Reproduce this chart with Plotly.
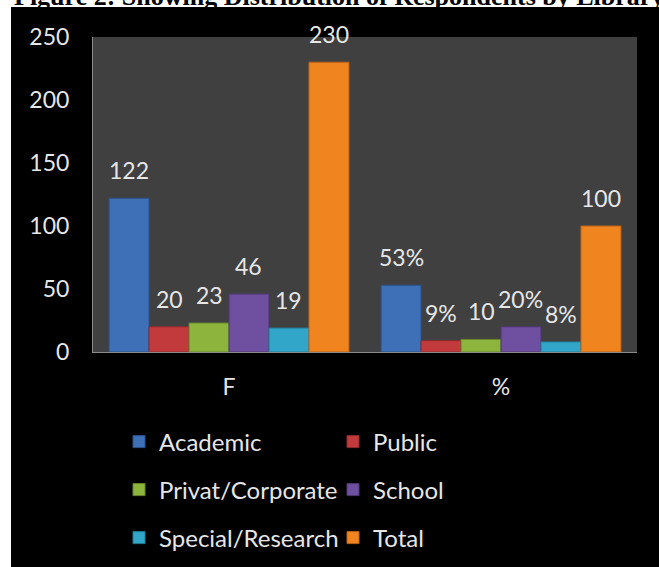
import plotly.graph_objects as go

# ---- data ----
categories = ["F", "%"]
series_names = ["Academic", "Public", "Privat/Corporate", "School", "Special/Research", "Total"]
f_values = [122, 20, 23, 46, 19, 230]
pct_values = [53, 9, 10, 20, 8, 100]
f_labels = ["122", "20", "23", "46", "19", "230"]
pct_labels = ["53%", "9%", "10", "20%", "8%", "100"]
y_ticks = [0, 50, 100, 150, 200, 250]
title_text = "Figure 2: Showing Distribution of Respondents by Library Type"

# ---- style ----
colors = ["#3d70b7", "#c23a3c", "#8db53e", "#6f4f9f", "#31a6c8", "#f0841f"]
edges = ["#2b5189", "#8f2a2c", "#67862c", "#4f3873", "#227b95", "#b9621a"]
W, H = 659, 567
ML, MR, MT, MB = 93, 22, 37, 215
PW, PH = W - ML - MR, H - MT - MB
BARGAP = 0.118
FONT = "Lato"
TXT = "#e6e6e6"
NUM_SIZE = 23
LEG_SIZE = 24

fig = go.Figure()
legend_ids = ["legend", "legend", "legend2", "legend2", "legend3", "legend3"]
for i, name in enumerate(series_names):
    fig.add_trace(go.Bar(
        x=categories, y=[f_values[i], pct_values[i]], name=name,
        marker=dict(color=colors[i], line=dict(color=edges[i], width=1)),
        legend=legend_ids[i], hoverinfo="skip",
    ))

# data labels positioned from the bar geometry of grouped bars
n = len(series_names)
w = (1 - BARGAP) / n
annotations = []
for ci, (vals, labs) in enumerate([(f_values, f_labels), (pct_values, pct_labels)]):
    for i in range(n):
        xc = ci - (1 - BARGAP) / 2 + (i + 0.5) * w
        annotations.append(dict(
            x=xc, y=vals[i], xref="x", yref="y", text=labs[i], showarrow=False,
            yanchor="bottom", xanchor="center", yshift=12,
            font=dict(family=FONT, size=NUM_SIZE, color=TXT),
        ))

# cut-off title at the top
annotations.append(dict(
    x=(12 - ML) / PW, y=1 + (MT - 13) / PH, xref="paper", yref="paper",
    xanchor="left", yanchor="bottom", text="<b>" + title_text + "</b>", showarrow=False,
    font=dict(family="Liberation Serif", size=26, color="black"),
))

shapes = [
    # white strip on top and on left (page around the chart picture)
    dict(type="rect", xref="paper", yref="paper", layer="below",
         x0=-ML / PW, x1=(W - ML) / PW, y0=1 + (MT - 7) / PH, y1=1 + MT / PH,
         fillcolor="white", line=dict(width=0)),
    dict(type="rect", xref="paper", yref="paper", layer="below",
         x0=-ML / PW, x1=(11 - ML) / PW, y0=-MB / PH, y1=1 + MT / PH,
         fillcolor="white", line=dict(width=0)),
]

leg_common = dict(orientation="h", xanchor="left", yanchor="middle",
                  font=dict(family=FONT, size=LEG_SIZE, color=TXT),
                  entrywidth=169, entrywidthmode="pixels",
                  bgcolor="rgba(0,0,0,0)", itemclick=False, itemdoubleclick=False)
lx = (119 - ML) / PW

fig.update_layout(
    width=W, height=H,
    margin=dict(l=ML, r=MR, t=MT, b=MB, autoexpand=False),
    paper_bgcolor="black", plot_bgcolor="#404040",
    barmode="group", bargap=BARGAP, bargroupgap=0,
    showlegend=True,
    legend=dict(**leg_common, x=lx, y=(352 - 442) / PH),
    legend2=dict(**leg_common, x=lx, y=(352 - 490) / PH),
    legend3=dict(**leg_common, x=lx, y=(352 - 538) / PH),
    annotations=annotations, shapes=shapes,
    xaxis=dict(showgrid=False, showline=True, linecolor="#8a8a8a", linewidth=1,
               ticks="outside", ticklen=14, tickcolor="rgba(0,0,0,0)",
               tickfont=dict(family=FONT, size=NUM_SIZE, color=TXT)),
    yaxis=dict(range=[0, 250], tickvals=y_ticks, showgrid=False, zeroline=False,
               showline=True, linecolor="#8a8a8a", linewidth=1,
               ticks="outside", ticklen=18, tickcolor="rgba(0,0,0,0)",
               tickfont=dict(family=FONT, size=NUM_SIZE, color=TXT)),
)

fig.write_html("out.html", config={"displayModeBar": False},
               post_script="document.body.style.margin='0';")
